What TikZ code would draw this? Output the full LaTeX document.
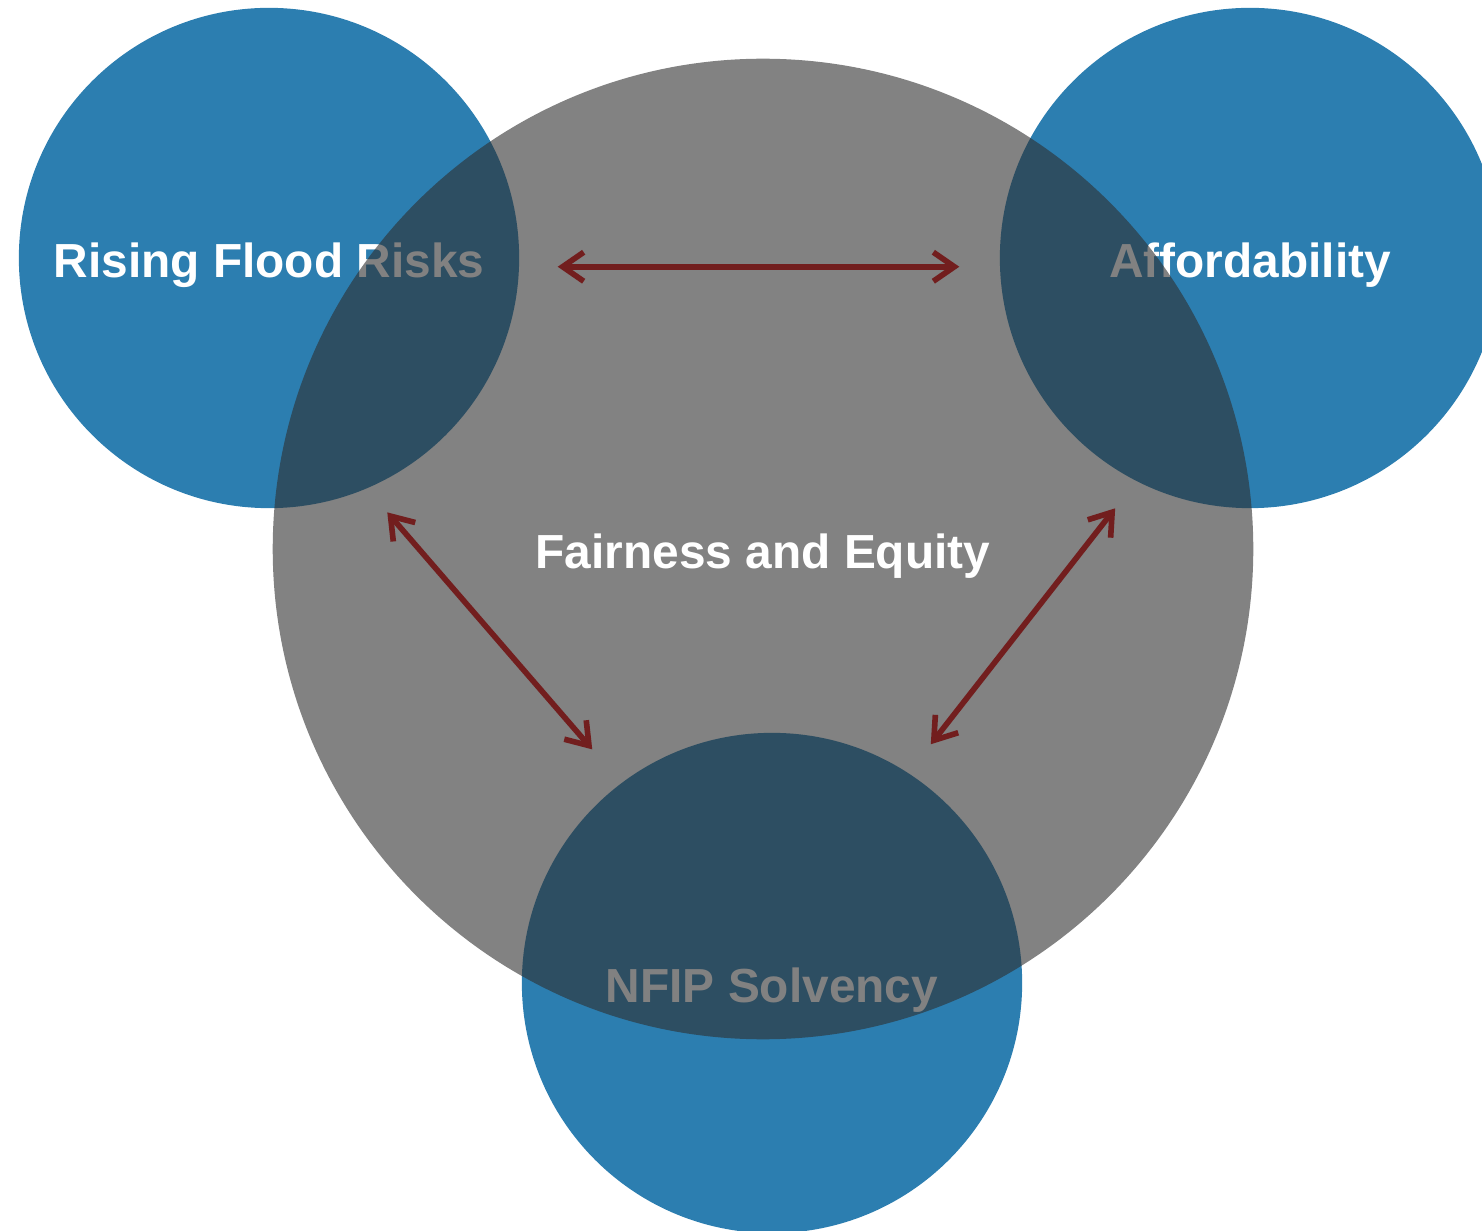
\documentclass[tikz,border=0pt]{standalone}
\usepackage{fontspec}
\setmainfont{Liberation Sans}
\usepackage{xcolor}
\usepackage{tikz}
\usetikzlibrary{arrows.meta}
\definecolor{floodblue}{RGB}{44,126,176}
\definecolor{arrowred}{RGB}{114,30,30}
\tikzset{>={Straight Barb[length=2.1mm,width=2.9mm]}}
\tikzset{
  bubble/.style={circle,fill=floodblue,minimum size=5cm,inner sep=0pt,text=white,text height=11pt,text depth=0pt,font=\bfseries\fontsize{13.6}{16}\selectfont},
  hub/.style={circle,fill=black!82,fill opacity=0.6,text opacity=1,minimum size=9.8cm,inner sep=0pt,text=white,text height=11pt,text depth=0pt,font=\bfseries\fontsize{13.6}{16}\selectfont},
  link/.style={<->,draw=arrowred,line width=1.6pt,line cap=round,line join=round}
}
\begin{document}
\begin{tikzpicture}[x=0.01cm,y=-0.01cm]
  \useasboundingbox (0,0) rectangle (1482,1231);
  \node[bubble] (Risks) at (269,258) {Rising Flood Risks};
  \node[bubble] (Afford) at (1250,258) {Affordability};
  \node[bubble] (Solvency) at (772,983) {NFIP Solvency};
  \node[hub] (Fairness) at (763,549) {Fairness and Equity};
  \draw[link,shorten <=0.38cm,shorten >=0.40cm] (Risks.-2) -- (Afford.182);
  \draw[link,shorten <=0.31cm,shorten >=0.44cm] (Risks.-67) -- (Solvency.127);
  \draw[link,shorten <=0.34cm,shorten >=0.36cm] (Afford.-117) -- (Solvency.57);
\end{tikzpicture}
\end{document}
